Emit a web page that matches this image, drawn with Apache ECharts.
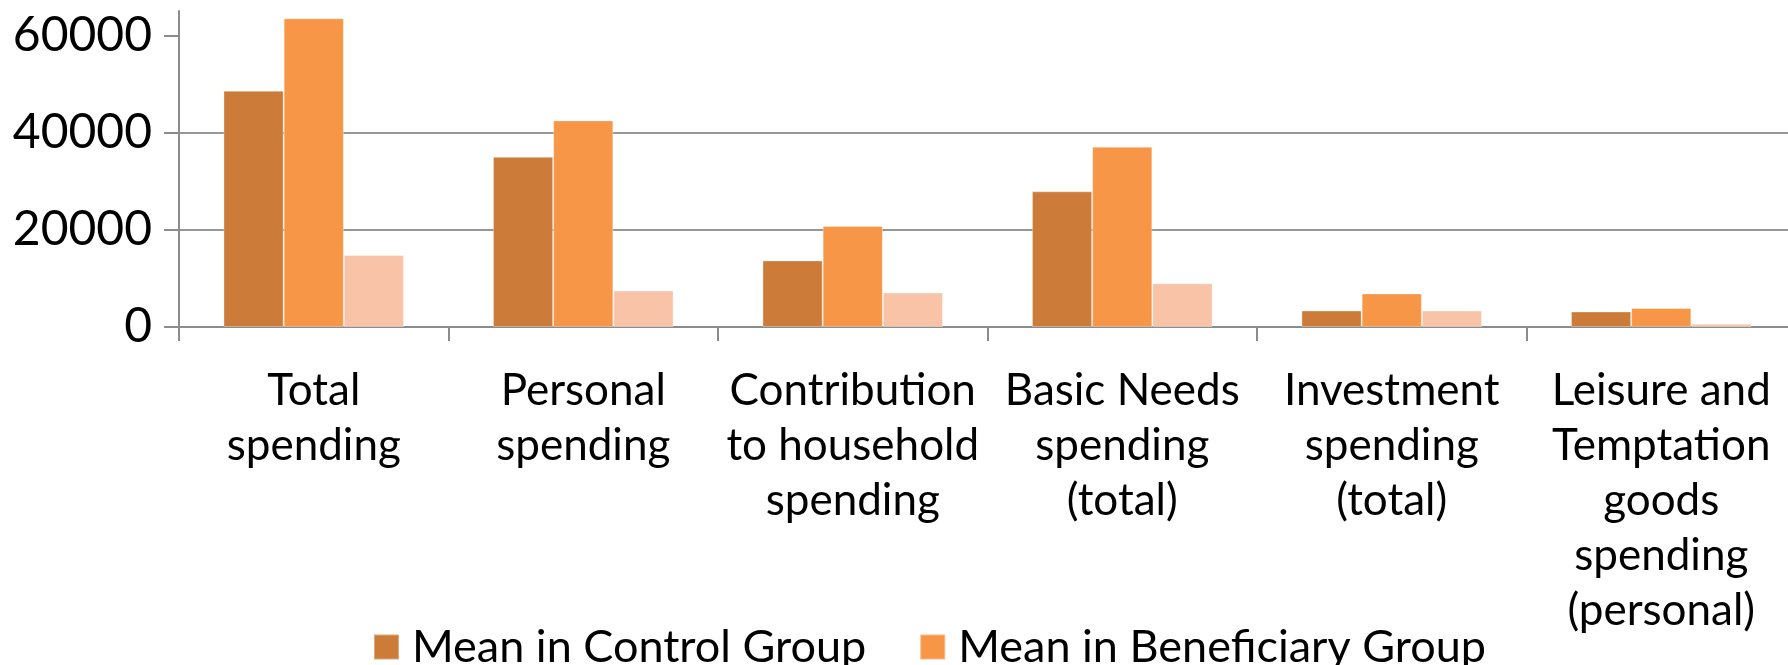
<!DOCTYPE html>
<html>
<head>
<meta charset="utf-8">
<script src="https://cdn.jsdelivr.net/npm/echarts@6/dist/echarts.min.js"></script>
<style>
  html, body { margin: 0; padding: 0; background: #fff; }
  #chart { width: 1788px; height: 665px; }
</style>
</head>
<body>
<div id="chart"></div>
<script>
// Spending categories (x axis)
const categories = [
  'Total\nspending',
  'Personal\nspending',
  'Contribution\nto household\nspending',
  'Basic Needs\nspending\n(total)',
  'Investment\nspending\n(total)',
  'Leisure and\nTemptation\ngoods\nspending\n(personal)'
];

// Mean spending per group
const controlMeans     = [48600, 35000, 13700, 27900, 3400, 3200];
const beneficiaryMeans = [63500, 42500, 20800, 37100, 6900, 3900];
const differences      = [14800, 7500, 7100, 9000, 3400, 650];

// Value axis ticks
const yTicks = [0, 20000, 40000, 60000];

const FONT = 'Lato, "Open Sans", sans-serif';

const chart = echarts.init(document.getElementById('chart'));
chart.setOption({
  animation: false,
  backgroundColor: '#ffffff',
  textStyle: { fontFamily: FONT },
  grid: { left: 179, width: 1617, top: 11, bottom: 338, containLabel: false, outerBoundsMode: 'none' },
  legend: {
    data: ['Mean in Control Group', 'Mean in Beneficiary Group'],
    left: 368,
    top: 617,
    itemWidth: 25,
    itemHeight: 25,
    itemGap: 53,
    icon: 'rect',
    textStyle: { fontFamily: FONT, fontSize: 45, color: '#000', lineHeight: 50, padding: [0, 0, 0, 8] }
  },
  xAxis: {
    type: 'category',
    data: categories,
    boundaryGap: true,
    axisLine: { lineStyle: { color: '#8c8c8c', width: 2 } },
    axisTick: { show: true, length: 14, lineStyle: { color: '#8c8c8c', width: 2 } },
    axisLabel: {
      interval: 0,
      margin: 36,
      fontFamily: FONT,
      fontSize: 44,
      lineHeight: 55,
      color: '#000',
      align: 'center',
      verticalAlign: 'top'
    }
  },
  yAxis: {
    type: 'value',
    min: 0,
    max: 65000,
    interval: 20000,
    axisLine: { show: true, lineStyle: { color: '#8c8c8c', width: 2 } },
    axisTick: { show: true, length: 15, customValues: yTicks, lineStyle: { color: '#8c8c8c', width: 2 } },
    axisLabel: {
      customValues: yTicks,
      margin: 27,
      fontFamily: FONT,
      fontSize: 48,
      color: '#000',
      formatter: (v) => String(v)
    },
    splitLine: { show: true, showMaxLine: false, lineStyle: { color: '#979797', width: 2 } }
  },
  series: [
    {
      name: 'Mean in Control Group',
      type: 'bar',
      data: controlMeans,
      barGap: '0%',
      barCategoryGap: '33%',
      itemStyle: { color: '#cd7b38', borderColor: 'rgba(255,255,255,0.35)', borderWidth: 1 }
    },
    {
      name: 'Mean in Beneficiary Group',
      type: 'bar',
      data: beneficiaryMeans,
      itemStyle: { color: '#f79646', borderColor: 'rgba(255,255,255,0.35)', borderWidth: 1 }
    },
    {
      name: 'Difference',
      type: 'bar',
      data: differences,
      itemStyle: { color: '#f9c3a7', borderColor: 'rgba(255,255,255,0.35)', borderWidth: 1 }
    }
  ]
});
</script>
</body>
</html>
